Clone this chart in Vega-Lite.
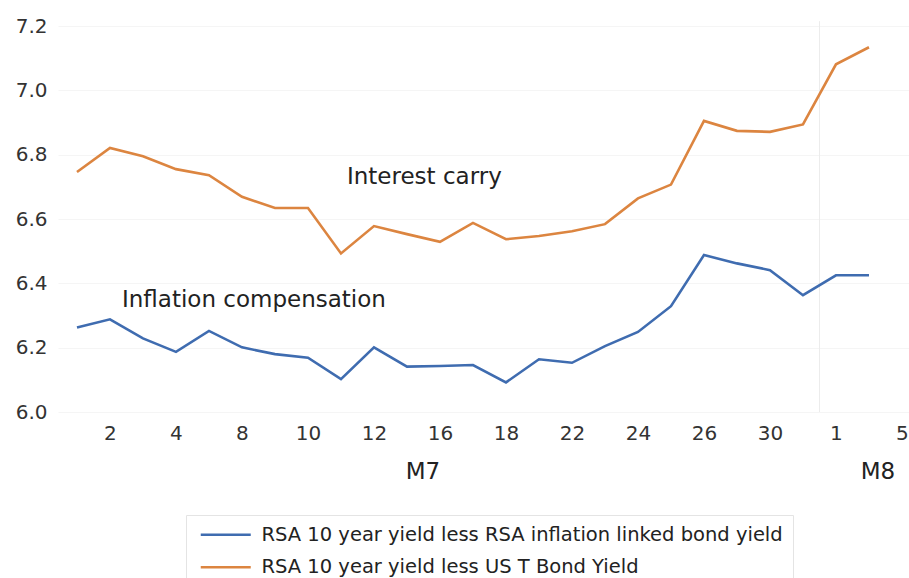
{
  "$schema": "https://vega.github.io/schema/vega-lite/v6.json",
  "autosize": {"type": "none"},
  "width": 851,
  "height": 386,
  "padding": {"left": 58, "top": 26, "right": 0, "bottom": 166},
  "background": "white",
  "config": {
    "font": "DejaVu Sans",
    "view": {"stroke": null},
    "axis": {"labelFont": "DejaVu Sans", "labelColor": "#333333"}
  },
  "data": {"values": [
    {"date": "Jul 1", "series": "RSA 10 year yield less RSA inflation linked bond yield", "value": 6.263},
    {"date": "Jul 2", "series": "RSA 10 year yield less RSA inflation linked bond yield", "value": 6.288},
    {"date": "Jul 3", "series": "RSA 10 year yield less RSA inflation linked bond yield", "value": 6.229},
    {"date": "Jul 4", "series": "RSA 10 year yield less RSA inflation linked bond yield", "value": 6.187},
    {"date": "Jul 5", "series": "RSA 10 year yield less RSA inflation linked bond yield", "value": 6.252},
    {"date": "Jul 8", "series": "RSA 10 year yield less RSA inflation linked bond yield", "value": 6.201},
    {"date": "Jul 9", "series": "RSA 10 year yield less RSA inflation linked bond yield", "value": 6.180},
    {"date": "Jul 10", "series": "RSA 10 year yield less RSA inflation linked bond yield", "value": 6.169},
    {"date": "Jul 11", "series": "RSA 10 year yield less RSA inflation linked bond yield", "value": 6.102},
    {"date": "Jul 12", "series": "RSA 10 year yield less RSA inflation linked bond yield", "value": 6.201},
    {"date": "Jul 15", "series": "RSA 10 year yield less RSA inflation linked bond yield", "value": 6.141},
    {"date": "Jul 16", "series": "RSA 10 year yield less RSA inflation linked bond yield", "value": 6.143},
    {"date": "Jul 17", "series": "RSA 10 year yield less RSA inflation linked bond yield", "value": 6.146},
    {"date": "Jul 18", "series": "RSA 10 year yield less RSA inflation linked bond yield", "value": 6.092},
    {"date": "Jul 19", "series": "RSA 10 year yield less RSA inflation linked bond yield", "value": 6.164},
    {"date": "Jul 22", "series": "RSA 10 year yield less RSA inflation linked bond yield", "value": 6.153},
    {"date": "Jul 23", "series": "RSA 10 year yield less RSA inflation linked bond yield", "value": 6.205},
    {"date": "Jul 24", "series": "RSA 10 year yield less RSA inflation linked bond yield", "value": 6.249},
    {"date": "Jul 25", "series": "RSA 10 year yield less RSA inflation linked bond yield", "value": 6.329},
    {"date": "Jul 26", "series": "RSA 10 year yield less RSA inflation linked bond yield", "value": 6.488},
    {"date": "Jul 29", "series": "RSA 10 year yield less RSA inflation linked bond yield", "value": 6.462},
    {"date": "Jul 30", "series": "RSA 10 year yield less RSA inflation linked bond yield", "value": 6.441},
    {"date": "Jul 31", "series": "RSA 10 year yield less RSA inflation linked bond yield", "value": 6.363},
    {"date": "Aug 1", "series": "RSA 10 year yield less RSA inflation linked bond yield", "value": 6.425},
    {"date": "Aug 2", "series": "RSA 10 year yield less RSA inflation linked bond yield", "value": 6.425},
    {"date": "Jul 1", "series": "RSA 10 year yield less US T Bond Yield", "value": 6.746},
    {"date": "Jul 2", "series": "RSA 10 year yield less US T Bond Yield", "value": 6.821},
    {"date": "Jul 3", "series": "RSA 10 year yield less US T Bond Yield", "value": 6.795},
    {"date": "Jul 4", "series": "RSA 10 year yield less US T Bond Yield", "value": 6.755},
    {"date": "Jul 5", "series": "RSA 10 year yield less US T Bond Yield", "value": 6.736},
    {"date": "Jul 8", "series": "RSA 10 year yield less US T Bond Yield", "value": 6.669},
    {"date": "Jul 9", "series": "RSA 10 year yield less US T Bond Yield", "value": 6.634},
    {"date": "Jul 10", "series": "RSA 10 year yield less US T Bond Yield", "value": 6.634},
    {"date": "Jul 11", "series": "RSA 10 year yield less US T Bond Yield", "value": 6.493},
    {"date": "Jul 12", "series": "RSA 10 year yield less US T Bond Yield", "value": 6.578},
    {"date": "Jul 15", "series": "RSA 10 year yield less US T Bond Yield", "value": 6.553},
    {"date": "Jul 16", "series": "RSA 10 year yield less US T Bond Yield", "value": 6.529},
    {"date": "Jul 17", "series": "RSA 10 year yield less US T Bond Yield", "value": 6.588},
    {"date": "Jul 18", "series": "RSA 10 year yield less US T Bond Yield", "value": 6.537},
    {"date": "Jul 19", "series": "RSA 10 year yield less US T Bond Yield", "value": 6.547},
    {"date": "Jul 22", "series": "RSA 10 year yield less US T Bond Yield", "value": 6.562},
    {"date": "Jul 23", "series": "RSA 10 year yield less US T Bond Yield", "value": 6.584},
    {"date": "Jul 24", "series": "RSA 10 year yield less US T Bond Yield", "value": 6.664},
    {"date": "Jul 25", "series": "RSA 10 year yield less US T Bond Yield", "value": 6.707},
    {"date": "Jul 26", "series": "RSA 10 year yield less US T Bond Yield", "value": 6.905},
    {"date": "Jul 29", "series": "RSA 10 year yield less US T Bond Yield", "value": 6.874},
    {"date": "Jul 30", "series": "RSA 10 year yield less US T Bond Yield", "value": 6.871},
    {"date": "Jul 31", "series": "RSA 10 year yield less US T Bond Yield", "value": 6.894},
    {"date": "Aug 1", "series": "RSA 10 year yield less US T Bond Yield", "value": 7.081},
    {"date": "Aug 2", "series": "RSA 10 year yield less US T Bond Yield", "value": 7.134}
  ]},
  "encoding": {
    "x": {
      "field": "date",
      "type": "ordinal",
      "scale": {
        "type": "point",
        "domain": ["Jul 1","Jul 2","Jul 3","Jul 4","Jul 5","Jul 8","Jul 9","Jul 10","Jul 11","Jul 12","Jul 15","Jul 16","Jul 17","Jul 18","Jul 19","Jul 22","Jul 23","Jul 24","Jul 25","Jul 26","Jul 29","Jul 30","Jul 31","Aug 1","Aug 2","Aug 5"],
        "padding": 0.394,
        "align": 0.73
      },
      "axis": {
        "title": null,
        "values": ["Jul 2","Jul 4","Jul 8","Jul 10","Jul 12","Jul 16","Jul 18","Jul 22","Jul 24","Jul 26","Jul 30","Aug 1","Aug 5"],
        "labelExpr": "split(datum.value, ' ')[1]",
        "labelAngle": 0,
        "labelFontSize": 20,
        "labelPadding": 11,
        "ticks": false,
        "domain": false,
        "grid": false
      }
    },
    "y": {
      "type": "quantitative",
      "scale": {"domain": [6.0, 7.2], "zero": false, "nice": false},
      "axis": {
        "title": null,
        "values": [6.0, 6.2, 6.4, 6.6, 6.8, 7.0, 7.2],
        "format": ".1f",
        "labelFontSize": 20,
        "labelPadding": 11,
        "ticks": false,
        "domain": false,
        "grid": true,
        "gridColor": "#f5f5f5",
        "gridWidth": 1
      }
    }
  },
  "layer": [
    {
      "data": {"values": [{"divider": "M7/M8"}]},
      "mark": {"type": "rule", "color": "#ececec", "strokeWidth": 1, "xOffset": -16.5},
      "encoding": {
        "x": {"datum": "Aug 1", "type": "ordinal"},
        "y": {"datum": 7.215, "type": "quantitative"},
        "y2": {"datum": 6.0}
      }
    },
    {
      "mark": {"type": "line", "strokeWidth": 2.6},
      "encoding": {
        "y": {"field": "value", "type": "quantitative"},
        "color": {
          "field": "series",
          "type": "nominal",
          "scale": {
            "domain": ["RSA 10 year yield less RSA inflation linked bond yield", "RSA 10 year yield less US T Bond Yield"],
            "range": ["#3f6cb0", "#dc8540"]
          },
          "legend": {
            "title": null,
            "orient": "none",
            "legendX": 128,
            "legendY": 489,
            "direction": "vertical",
            "strokeColor": "#e4e4e4",
            "padding": 10,
            "symbolType": "M-1,0H9",
            "symbolSize": 100,
            "symbolStrokeWidth": 2.6,
            "labelFontSize": 19.5,
            "labelFont": "DejaVu Sans",
            "labelColor": "#222222",
            "labelOffset": 46,
            "rowPadding": 11.5,
            "labelLimit": 700
          }
        }
      }
    },
    {
      "data": {"values": [{"label": "Interest carry"}]},
      "mark": {"type": "text", "align": "left", "baseline": "alphabetic", "fontSize": 23, "dx": 6, "fill": "#222222", "font": "DejaVu Sans"},
      "encoding": {
        "x": {"datum": "Jul 11", "type": "ordinal"},
        "y": {"datum": 6.708, "type": "quantitative"},
        "text": {"field": "label"}
      }
    },
    {
      "data": {"values": [{"label": "Inflation compensation"}]},
      "mark": {"type": "text", "align": "left", "baseline": "alphabetic", "fontSize": 23, "dx": 12, "fill": "#222222", "font": "DejaVu Sans"},
      "encoding": {
        "x": {"datum": "Jul 2", "type": "ordinal"},
        "y": {"datum": 6.325, "type": "quantitative"},
        "text": {"field": "label"}
      }
    },
    {
      "data": {"values": [{"label": "M7"}]},
      "mark": {"type": "text", "align": "center", "baseline": "middle", "fontSize": 23, "dx": 16, "fill": "#222222", "font": "DejaVu Sans"},
      "encoding": {
        "x": {"datum": "Jul 15", "type": "ordinal"},
        "y": {"datum": 5.815, "type": "quantitative"},
        "text": {"field": "label"}
      }
    },
    {
      "data": {"values": [{"label": "M8"}]},
      "mark": {"type": "text", "align": "center", "baseline": "middle", "fontSize": 23, "dx": 9, "fill": "#222222", "font": "DejaVu Sans"},
      "encoding": {
        "x": {"datum": "Aug 2", "type": "ordinal"},
        "y": {"datum": 5.815, "type": "quantitative"},
        "text": {"field": "label"}
      }
    }
  ]
}
